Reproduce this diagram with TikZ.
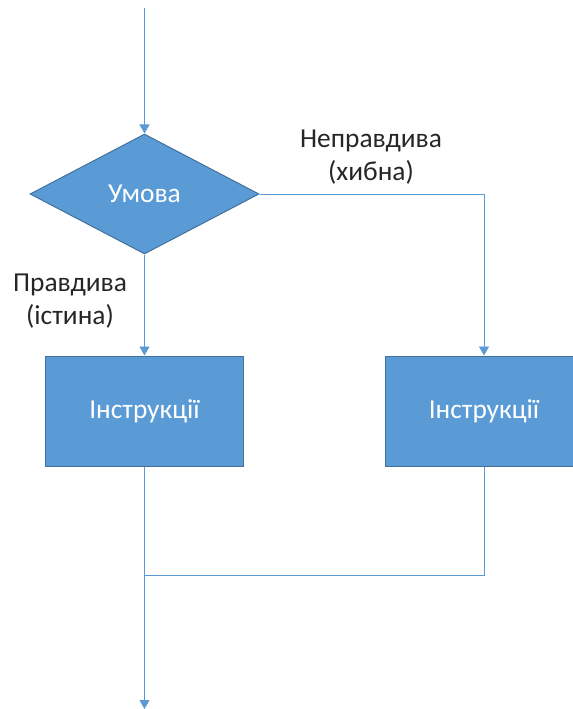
\documentclass[tikz,border=0pt]{standalone}
\usepackage{fontspec}
\setmainfont{Carlito}
\usetikzlibrary{shapes.geometric,arrows.meta}
\definecolor{fillblue}{HTML}{5B9BD5}
\definecolor{edgeblue}{HTML}{41719C}
\definecolor{lineblue}{HTML}{5B9BD5}
\tikzset{
  shapebase/.style={fill=fillblue, draw=edgeblue, line width=1bp, text=white, font=\fontsize{27.5}{33}\selectfont, inner sep=0pt},
  condbox/.style={shapebase, diamond, minimum width=229bp, minimum height=120bp, aspect=1.9},
  instbox/.style={shapebase, rectangle, minimum width=198bp, minimum height=110bp},
  conn/.style={draw=lineblue, line width=0.9bp},
  arr/.style={conn, -{Triangle[width=10bp,length=9bp]}},
  lbl/.style={align=center, font=\fontsize{27.5}{33}\selectfont, text=black!85, inner sep=0pt}
}
\begin{document}
\begin{tikzpicture}[x=1bp,y=-1bp]
\useasboundingbox (0,0) rectangle (573,709);
\clip (0,0) rectangle (573,709);
\coordinate (start) at (144.5,8);
\node[condbox] (cond) at (144.5,194) {Умова};
\node[instbox] (left) at (144.5,411) {Інструкції};
\node[instbox] (right) at (484,411) {Інструкції};
\coordinate (corner) at (484,194);
\coordinate (joinL) at (144.5,575.5);
\coordinate (joinR) at (484,575.5);
\coordinate (finish) at (144.5,709);
\draw[arr] (start) -- (cond.north);
\draw[arr] (cond.east) -- (corner) -- (right.north);
\draw[arr] (cond.south) -- (left.north);
\draw[conn] (left.south) -- (joinL);
\draw[conn] (right.south) -- (joinR) -- (joinL);
\draw[arr] (joinL) -- (finish);
\node[lbl] (nolbl) at (371,157) {Неправдива\\(хибна)};
\node[lbl] (yeslbl) at (70,301) {Правдива\\(істина)};
\end{tikzpicture}
\end{document}
